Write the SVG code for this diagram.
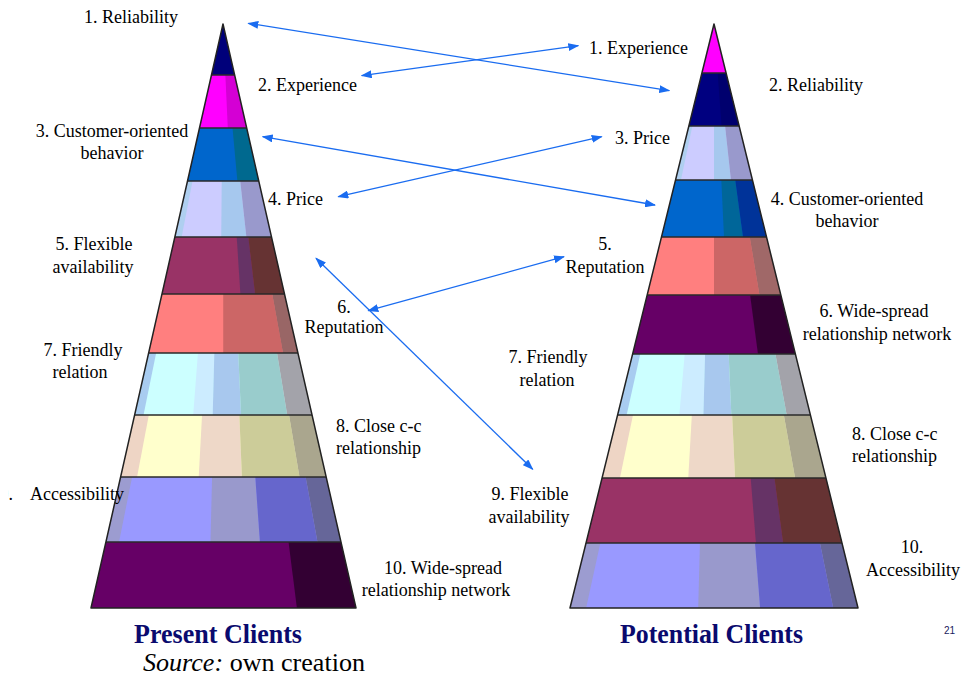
<svg xmlns="http://www.w3.org/2000/svg" width="970" height="676" viewBox="0 0 970 676">
<style>
.lbl{font-family:"Liberation Serif","Times New Roman",serif;font-size:18px;fill:#000}
.mid{text-anchor:middle}
.title{font-family:"Liberation Serif","Times New Roman",serif;font-weight:bold;font-size:27px;fill:#0a0a6e}
.src{font-family:"Liberation Serif","Times New Roman",serif;font-size:26px;fill:#000}
.pg{font-family:"Liberation Sans",Arial,sans-serif;font-size:10px;fill:#1a1a5e}
.conn{stroke:#1a6cf0;stroke-width:1.3;fill:none;marker-start:url(#ah);marker-end:url(#ah)}
.sep{stroke:#2a2a2a;stroke-width:1.5}
.outline{fill:none;stroke:#222;stroke-width:1.5;stroke-linejoin:round}
</style>
<defs>
<marker id="ah" markerUnits="userSpaceOnUse" markerWidth="11" markerHeight="8" refX="10" refY="4" orient="auto-start-reverse">
<path d="M0,0 L11,4 L0,8 z" fill="#1a6cf0"/>
</marker>
<clipPath id="cL1"><rect x="0" y="24" width="970" height="51"/></clipPath>
<clipPath id="cL2"><rect x="0" y="75" width="970" height="53"/></clipPath>
<clipPath id="cL3"><rect x="0" y="128" width="970" height="53"/></clipPath>
<clipPath id="cL4"><rect x="0" y="181" width="970" height="56"/></clipPath>
<clipPath id="cL5"><rect x="0" y="237" width="970" height="57"/></clipPath>
<clipPath id="cL6"><rect x="0" y="294" width="970" height="59"/></clipPath>
<clipPath id="cL7"><rect x="0" y="353" width="970" height="62"/></clipPath>
<clipPath id="cL8"><rect x="0" y="415" width="970" height="62"/></clipPath>
<clipPath id="cL9"><rect x="0" y="477" width="970" height="65"/></clipPath>
<clipPath id="cL10"><rect x="0" y="542" width="970" height="66"/></clipPath>
<clipPath id="cR1"><rect x="0" y="24" width="970" height="49"/></clipPath>
<clipPath id="cR2"><rect x="0" y="73" width="970" height="53"/></clipPath>
<clipPath id="cR3"><rect x="0" y="126" width="970" height="54"/></clipPath>
<clipPath id="cR4"><rect x="0" y="180" width="970" height="57"/></clipPath>
<clipPath id="cR5"><rect x="0" y="237" width="970" height="58"/></clipPath>
<clipPath id="cR6"><rect x="0" y="295" width="970" height="59"/></clipPath>
<clipPath id="cR7"><rect x="0" y="354" width="970" height="61"/></clipPath>
<clipPath id="cR8"><rect x="0" y="415" width="970" height="63"/></clipPath>
<clipPath id="cR9"><rect x="0" y="478" width="970" height="65"/></clipPath>
<clipPath id="cR10"><rect x="0" y="543" width="970" height="65"/></clipPath>
<clipPath id="triL"><polygon points="223,24 91,608 356,608"/></clipPath>
<clipPath id="triR"><polygon points="714,24 570,608 858,608"/></clipPath>
<clipPath id="edge"><rect x="8.5" y="470" width="40" height="40"/></clipPath>
</defs>

<rect width="970" height="676" fill="#fff"/>

<g id="pyramid-present">
<g id="L1" clip-path="url(#cL1)"><polygon points="223,24 91,608 356,608" fill="#00007a"/></g>
<g id="L2" clip-path="url(#cL2)"><polygon points="223,24 91,608 356,608" fill="#ff00ff"/><polygon points="223,24 250,608 356,608" fill="#d400d4"/></g>
<g id="L3" clip-path="url(#cL3)"><polygon points="223,24 91,608 356,608" fill="#0066cc"/><polygon points="223,24 276.5,608 356,608" fill="#00698f"/></g>
<g id="L4" clip-path="url(#cL4)"><polygon points="223,24 91,608 356,608" fill="#ccccff"/><polygon points="223,24 91,608 109.6,608" fill="#afcff0"/><polygon points="223,24 218.2,608 287.1,608" fill="#a6c8ee"/><polygon points="223,24 287.1,608 356,608" fill="#9999cc"/></g>
<g id="L5" clip-path="url(#cL5)"><polygon points="223,24 91,608 356,608" fill="#993366"/><polygon points="223,24 260.6,608 292.4,608" fill="#663366"/><polygon points="223,24 292.4,608 356,608" fill="#663333"/></g>
<g id="L6" clip-path="url(#cL6)"><polygon points="223,24 91,608 356,608" fill="#ff7f7f"/><polygon points="223,24 223.5,608 329.5,608" fill="#cc6666"/><polygon points="223,24 329.5,608 356,608" fill="#996666"/></g>
<g id="L7" clip-path="url(#cL7)"><polygon points="223,24 91,608 356,608" fill="#ccffff"/><polygon points="223,24 91,608 104.3,608" fill="#a8ccf0"/><polygon points="223,24 178.5,608 207.6,608" fill="#ccecff"/><polygon points="223,24 207.6,608 250,608" fill="#a8c8ee"/><polygon points="223,24 250,608 318.9,608" fill="#99cccc"/><polygon points="223,24 318.9,608 356,608" fill="#a3a3aa"/></g>
<g id="L8" clip-path="url(#cL8)"><polygon points="223,24 91,608 356,608" fill="#ffffcc"/><polygon points="223,24 91,608 112.2,608" fill="#eed5c5"/><polygon points="223,24 191.7,608 247.4,608" fill="#eed8c8"/><polygon points="223,24 247.4,608 321.6,608" fill="#cccc99"/><polygon points="223,24 321.6,608 356,608" fill="#aaa68e"/></g>
<g id="L9" clip-path="url(#cL9)"><polygon points="223,24 91,608 356,608" fill="#9999ff"/><polygon points="223,24 91,608 105.8,608" fill="#9c9cd0"/><polygon points="223,24 208.9,608 264.6,608" fill="#9999cc"/><polygon points="223,24 264.6,608 329.5,608" fill="#6666cc"/><polygon points="223,24 329.5,608 356,608" fill="#666699"/></g>
<g id="L10" clip-path="url(#cL10)"><polygon points="223,24 91,608 356,608" fill="#660066"/><polygon points="223,24 296.9,608 356,608" fill="#330033"/></g>
<g clip-path="url(#triL)">
<line class="sep" x1="80" y1="75" x2="370" y2="75"/>
<line class="sep" x1="80" y1="128" x2="370" y2="128"/>
<line class="sep" x1="80" y1="181" x2="370" y2="181"/>
<line class="sep" x1="80" y1="237" x2="370" y2="237"/>
<line class="sep" x1="80" y1="294" x2="370" y2="294"/>
<line class="sep" x1="80" y1="353" x2="370" y2="353"/>
<line class="sep" x1="80" y1="415" x2="370" y2="415"/>
<line class="sep" x1="80" y1="477" x2="370" y2="477"/>
<line class="sep" x1="80" y1="542" x2="370" y2="542"/>
</g>
<polygon class="outline" points="223,24 91,608 356,608"/>
</g>

<g id="pyramid-potential">
<g id="R1" clip-path="url(#cR1)"><polygon points="714,24 570,608 858,608" fill="#ff00ff"/></g>
<g id="R2" clip-path="url(#cR2)"><polygon points="714,24 570,608 858,608" fill="#000080"/><polygon points="714,24 757.2,608 858,608" fill="#00006e"/></g>
<g id="R3" clip-path="url(#cR3)"><polygon points="714,24 570,608 858,608" fill="#ccccff"/><polygon points="714,24 570,608 590.2,608" fill="#afcff0"/><polygon points="714,24 714,608 777.4,608" fill="#a6c8ee"/><polygon points="714,24 777.4,608 858,608" fill="#9999cc"/></g>
<g id="R4" clip-path="url(#cR4)"><polygon points="714,24 570,608 858,608" fill="#0066cc"/><polygon points="714,24 741.4,608 793.5,608" fill="#006699"/><polygon points="714,24 793.5,608 858,608" fill="#003399"/></g>
<g id="R5" clip-path="url(#cR5)"><polygon points="714,24 570,608 858,608" fill="#ff7f7f"/><polygon points="714,24 714,608 811.9,608" fill="#cc6666"/><polygon points="714,24 811.9,608 858,608" fill="#a06868"/></g>
<g id="R6" clip-path="url(#cR6)"><polygon points="714,24 570,608 858,608" fill="#660066"/><polygon points="714,24 791.8,608 858,608" fill="#330033"/></g>
<g id="R7" clip-path="url(#cR7)"><polygon points="714,24 570,608 858,608" fill="#ccffff"/><polygon points="714,24 570,608 583.5,608" fill="#a8ccf0"/><polygon points="714,24 662.2,608 698.2,608" fill="#ccecff"/><polygon points="714,24 698.2,608 739.9,608" fill="#a8c8ee"/><polygon points="714,24 739.9,608 822.6,608" fill="#99cccc"/><polygon points="714,24 822.6,608 858,608" fill="#a3a3aa"/></g>
<g id="R8" clip-path="url(#cR8)"><polygon points="714,24 570,608 858,608" fill="#ffffcc"/><polygon points="714,24 570,608 593,608" fill="#eed5c5"/><polygon points="714,24 680.9,608 741.1,608" fill="#eed8c8"/><polygon points="714,24 741.1,608 818.3,608" fill="#cccc99"/><polygon points="714,24 818.3,608 858,608" fill="#aaa68e"/></g>
<g id="R9" clip-path="url(#cR9)"><polygon points="714,24 570,608 858,608" fill="#993366"/><polygon points="714,24 761.2,608 791.8,608" fill="#663366"/><polygon points="714,24 791.8,608 858,608" fill="#663333"/></g>
<g id="R10" clip-path="url(#cR10)"><polygon points="714,24 570,608 858,608" fill="#9999ff"/><polygon points="714,24 570,608 586.1,608" fill="#9c9cd0"/><polygon points="714,24 698.2,608 760.1,608" fill="#9999cc"/><polygon points="714,24 760.1,608 833.2,608" fill="#6666cc"/><polygon points="714,24 833.2,608 858,608" fill="#666699"/></g>
<g clip-path="url(#triR)">
<line class="sep" x1="560" y1="73" x2="870" y2="73"/>
<line class="sep" x1="560" y1="126" x2="870" y2="126"/>
<line class="sep" x1="560" y1="180" x2="870" y2="180"/>
<line class="sep" x1="560" y1="237" x2="870" y2="237"/>
<line class="sep" x1="560" y1="295" x2="870" y2="295"/>
<line class="sep" x1="560" y1="354" x2="870" y2="354"/>
<line class="sep" x1="560" y1="415" x2="870" y2="415"/>
<line class="sep" x1="560" y1="478" x2="870" y2="478"/>
<line class="sep" x1="560" y1="543" x2="870" y2="543"/>
</g>
<polygon class="outline" points="714,24 570,608 858,608"/>
</g>

<g id="labels-present">
<g id="p1"><text class="lbl" x="84" y="23">1. Reliability</text></g>
<g id="p2"><text class="lbl" x="258" y="91">2. Experience</text></g>
<g id="p3"><text class="lbl mid" x="112" y="137">3. Customer-oriented</text><text class="lbl mid" x="112" y="159">behavior</text></g>
<g id="p4"><text class="lbl" x="268" y="205">4. Price</text></g>
<g id="p5"><text class="lbl mid" x="94" y="250">5. Flexible</text><text class="lbl mid" x="93" y="273">availability</text></g>
<g id="p6"><text class="lbl mid" x="344" y="313">6.</text><text class="lbl mid" x="344" y="333">Reputation</text></g>
<g id="p7"><text class="lbl mid" x="83" y="356">7. Friendly</text><text class="lbl mid" x="80" y="378">relation</text></g>
<g id="p8"><text class="lbl" x="336" y="432">8. Close c-c</text><text class="lbl" x="336" y="454">relationship</text></g>
<g id="p9"><text class="lbl" x="13" y="500" text-anchor="end" clip-path="url(#edge)">9.</text><text class="lbl" x="30" y="500">Accessibility</text></g>
<g id="p10"><text class="lbl mid" x="443" y="574">10. Wide-spread</text><text class="lbl mid" x="436" y="596">relationship network</text></g>
</g>

<g id="labels-potential">
<g id="q1"><text class="lbl" x="589" y="54">1. Experience</text></g>
<g id="q2"><text class="lbl" x="769" y="91">2. Reliability</text></g>
<g id="q3"><text class="lbl" x="615" y="144">3. Price</text></g>
<g id="q4"><text class="lbl mid" x="847" y="205">4. Customer-oriented</text><text class="lbl mid" x="847" y="227">behavior</text></g>
<g id="q5"><text class="lbl mid" x="605" y="250">5.</text><text class="lbl mid" x="605" y="273">Reputation</text></g>
<g id="q6"><text class="lbl mid" x="874" y="317">6. Wide-spread</text><text class="lbl mid" x="877" y="340">relationship network</text></g>
<g id="q7"><text class="lbl mid" x="548" y="363">7. Friendly</text><text class="lbl mid" x="547" y="386">relation</text></g>
<g id="q8"><text class="lbl" x="852" y="440">8. Close c-c</text><text class="lbl" x="852" y="462">relationship</text></g>
<g id="q9"><text class="lbl mid" x="530" y="500">9. Flexible</text><text class="lbl mid" x="529" y="523">availability</text></g>
<g id="q10"><text class="lbl mid" x="912" y="553">10.</text><text class="lbl mid" x="913" y="576">Accessibility</text></g>
</g>

<g id="connectors">
<line class="conn" x1="248.3" y1="23.3" x2="669.3" y2="90.7"/>
<line class="conn" x1="361.7" y1="75.7" x2="578.3" y2="45.7"/>
<line class="conn" x1="262.7" y1="136.7" x2="655" y2="205"/>
<line class="conn" x1="338.3" y1="196.7" x2="601.7" y2="136.7"/>
<line class="conn" x1="368.3" y1="310.7" x2="564" y2="256.7"/>
<line class="conn" x1="316" y1="258.3" x2="532.7" y2="469.3"/>
</g>

<g id="captions">
<text class="title" x="134" y="643" textLength="168" lengthAdjust="spacingAndGlyphs">Present Clients</text>
<text class="title" x="620" y="643" textLength="183" lengthAdjust="spacingAndGlyphs">Potential Clients</text>
<text class="pg" x="944" y="634">21</text>
<text class="src" x="143" y="671" textLength="222" lengthAdjust="spacingAndGlyphs"><tspan font-style="italic">Source:</tspan> own creation</text>
</g>
</svg>
